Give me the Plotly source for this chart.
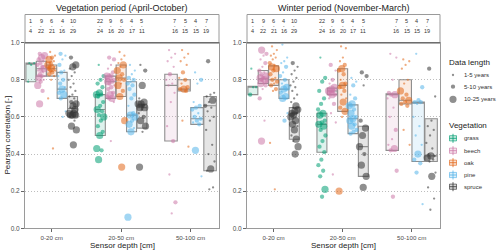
import plotly.graph_objects as go

# ---------------- data ----------------
periods = ["Vegetation period (April-October)", "Winter period (November-March)"]
depths = ["0-20 cm", "20-50 cm", "50-100 cm"]
vegetation = ["grass", "beech", "oak", "pine", "spruce"]
depth_vegetation = [vegetation, vegetation, vegetation[1:]]
n_sites = [[1, 9, 6, 4, 10], [22, 9, 6, 4, 5], [7, 5, 4, 7]]
n_sensors = [[4, 22, 21, 16, 29], [24, 16, 20, 17, 11], [16, 15, 15, 19]]
length_labels = ["1-5 years", "5-10 years", "10-25 years"]

# box statistics  [depth][vegetation]
veg_q1 = [[0.79, 0.82, 0.82, 0.70, 0.60], [0.50, 0.70, 0.71, 0.52, 0.54], [0.47, 0.74, 0.56, 0.31]]
veg_med = [[0.885, 0.86, 0.86, 0.75, 0.645], [0.64, 0.79, 0.81, 0.61, 0.65], [0.77, 0.75, 0.59, 0.66]]
veg_q3 = [[0.89, 0.90, 0.88, 0.84, 0.71], [0.72, 0.82, 0.88, 0.79, 0.67], [0.83, 0.80, 0.65, 0.71]]
win_q1 = [[0.72, 0.78, 0.77, 0.70, 0.48], [0.41, 0.72, 0.63, 0.51, 0.28], [0.42, 0.67, 0.36, 0.36]]
win_med = [[0.76, 0.805, 0.80, 0.75, 0.62], [0.56, 0.74, 0.77, 0.59, 0.44], [0.72, 0.69, 0.68, 0.39]]
win_q3 = [[0.765, 0.85, 0.875, 0.80, 0.65], [0.62, 0.755, 0.86, 0.665, 0.55], [0.725, 0.80, 0.68, 0.59]]

# sensor correlations (vegetation period)
veg_0_20 = {
    "grass": [0.89, 0.89, 0.88, 0.79],
    "beech": [0.94, 0.93, 0.92, 0.91, 0.90, 0.89, 0.88, 0.87, 0.86, 0.86, 0.85, 0.85, 0.84, 0.83, 0.82,
              0.82, 0.81, 0.80, 0.79, 0.77, 0.74, 0.67],
    "oak": [0.95, 0.93, 0.92, 0.91, 0.90, 0.89, 0.88, 0.88, 0.87, 0.87, 0.86, 0.86, 0.86, 0.85, 0.85,
            0.84, 0.83, 0.82, 0.80, 0.70, 0.43],
    "pine": [0.94, 0.93, 0.91, 0.88, 0.85, 0.84, 0.82, 0.80, 0.78, 0.76, 0.75, 0.73, 0.72, 0.70, 0.63, 0.60],
    "spruce": [0.92, 0.88, 0.87, 0.86, 0.84, 0.82, 0.80, 0.78, 0.76, 0.74, 0.72, 0.71, 0.70, 0.68, 0.67,
               0.66, 0.65, 0.64, 0.63, 0.62, 0.62, 0.61, 0.61, 0.61, 0.60, 0.58, 0.55, 0.53, 0.45],
}
veg_0_20_len = {
    "grass": [1, 1, 1, 1],
    "beech": [2, 3, 3, 2, 1, 2, 2, 2, 1, 3, 2, 1, 1, 2, 1, 2, 3, 1, 2, 3, 2, 3],
    "oak": [1, 1, 2, 3, 1, 2, 3, 1, 2, 1, 3, 2, 1, 2, 1, 2, 2, 1, 1, 1, 1],
    "pine": [2, 1, 1, 2, 1, 2, 1, 2, 2, 1, 3, 2, 3, 2, 1, 1],
    "spruce": [2, 3, 3, 1, 1, 1, 1, 1, 1, 1, 1, 1, 1, 2, 3, 3, 1, 3, 1, 3, 3, 3, 3, 3, 1, 1, 3, 3, 3],
}
veg_20_50 = {
    "grass": [0.88, 0.82, 0.80, 0.78, 0.76, 0.73, 0.72, 0.72, 0.71, 0.68, 0.66, 0.64, 0.63, 0.61, 0.60,
              0.58, 0.55, 0.52, 0.50, 0.43, 0.42, 0.37],
    "beech": [0.92, 0.91, 0.88, 0.86, 0.84, 0.83, 0.82, 0.82, 0.81, 0.80, 0.80, 0.79, 0.79, 0.78, 0.77,
              0.76, 0.75, 0.73, 0.72, 0.71, 0.70, 0.70, 0.68, 0.47],
    "oak": [0.95, 0.93, 0.91, 0.89, 0.88, 0.87, 0.85, 0.83, 0.81, 0.80, 0.78, 0.77, 0.74, 0.71, 0.58, 0.33],
    "pine": [0.88, 0.85, 0.83, 0.81, 0.80, 0.79, 0.78, 0.77, 0.75, 0.72, 0.70, 0.66, 0.62, 0.61, 0.60,
             0.58, 0.56, 0.54, 0.52, 0.06],
    "spruce": [0.88, 0.85, 0.77, 0.70, 0.68, 0.67, 0.67, 0.66, 0.65, 0.65, 0.64, 0.62, 0.60, 0.58, 0.55,
               0.52, 0.33],
}
veg_20_50_len = {
    "grass": [1, 2, 2, 2, 2, 3, 3, 2, 2, 2, 2, 3, 2, 2, 3, 2, 2, 2, 3, 3, 2, 3],
    "beech": [2, 2, 1, 1, 2, 1, 3, 2, 3, 2, 1, 3, 2, 2, 1, 2, 2, 2, 3, 2, 3, 2, 1, 1],
    "oak": [1, 1, 1, 1, 3, 1, 3, 2, 3, 2, 1, 3, 2, 3, 3, 3],
    "pine": [1, 1, 1, 2, 2, 1, 2, 2, 2, 2, 2, 1, 2, 3, 3, 2, 3, 1, 3, 3],
    "spruce": [1, 2, 3, 1, 3, 3, 3, 2, 3, 3, 1, 1, 2, 3, 3, 1, 3],
}
veg_50_100 = {
    "beech": [0.96, 0.94, 0.92, 0.90, 0.87, 0.83, 0.80, 0.78, 0.77, 0.73, 0.68, 0.55, 0.47, 0.29, 0.14, 0.08],
    "oak": [0.96, 0.94, 0.92, 0.90, 0.88, 0.84, 0.81, 0.80, 0.78, 0.76, 0.75, 0.75, 0.74, 0.58, 0.44],
    "pine": [0.84, 0.80, 0.78, 0.68, 0.66, 0.65, 0.64, 0.62, 0.60, 0.59, 0.58, 0.57, 0.56, 0.42, 0.28],
    "spruce": [0.90, 0.73, 0.72, 0.71, 0.69, 0.68, 0.66, 0.65, 0.63, 0.60, 0.58, 0.53, 0.45, 0.40, 0.36,
               0.32, 0.31, 0.22, 0.21],
}
veg_50_100_len = {
    "beech": [1, 1, 1, 1, 1, 2, 1, 1, 1, 1, 1, 1, 2, 1, 2, 1],
    "oak": [1, 1, 1, 1, 1, 2, 1, 2, 1, 2, 3, 2, 2, 1, 1],
    "pine": [1, 2, 1, 1, 2, 2, 2, 1, 2, 2, 2, 1, 2, 3, 1],
    "spruce": [2, 1, 1, 1, 3, 1, 2, 1, 1, 1, 1, 1, 1, 1, 1, 3, 1, 1, 1],
}

# sensor correlations (winter period)
win_0_20 = {
    "grass": [0.86, 0.76, 0.76, 0.72],
    "beech": [0.96, 0.94, 0.93, 0.91, 0.89, 0.87, 0.85, 0.84, 0.83, 0.82, 0.81, 0.81, 0.80, 0.80, 0.79,
              0.78, 0.78, 0.77, 0.75, 0.70, 0.58, 0.47],
    "oak": [0.98, 0.96, 0.94, 0.93, 0.92, 0.91, 0.89, 0.88, 0.87, 0.86, 0.85, 0.83, 0.81, 0.80, 0.79,
            0.78, 0.77, 0.75, 0.74, 0.46, 0.21],
    "pine": [0.99, 0.92, 0.90, 0.89, 0.87, 0.84, 0.82, 0.80, 0.78, 0.76, 0.75, 0.73, 0.71, 0.70, 0.62, 0.58],
    "spruce": [0.89, 0.87, 0.85, 0.83, 0.81, 0.79, 0.77, 0.76, 0.74, 0.72, 0.70, 0.68, 0.66, 0.65, 0.64,
               0.63, 0.62, 0.62, 0.61, 0.60, 0.58, 0.56, 0.55, 0.53, 0.50, 0.48, 0.47, 0.44, 0.40],
}
win_0_20_len = {
    "grass": [1, 1, 1, 2],
    "beech": [3, 2, 1, 1, 2, 1, 2, 1, 2, 3, 2, 3, 3, 2, 2, 1, 3, 2, 1, 2, 1, 3],
    "oak": [1, 1, 1, 1, 1, 1, 2, 1, 3, 3, 2, 2, 1, 2, 2, 1, 2, 2, 1, 1, 1],
    "pine": [1, 1, 1, 1, 2, 1, 2, 2, 1, 3, 3, 2, 3, 3, 1, 2],
    "spruce": [2, 1, 1, 1, 1, 1, 1, 1, 1, 1, 1, 1, 3, 1, 3, 3, 3, 1, 3, 3, 3, 3, 1, 3, 1, 3, 1, 3, 3],
}
win_20_50 = {
    "grass": [0.92, 0.81, 0.79, 0.74, 0.70, 0.67, 0.64, 0.62, 0.61, 0.58, 0.57, 0.56, 0.55, 0.53, 0.50,
              0.47, 0.44, 0.41, 0.37, 0.34, 0.31, 0.28, 0.21, 0.17],
    "beech": [0.88, 0.85, 0.80, 0.78, 0.76, 0.75, 0.74, 0.74, 0.73, 0.72, 0.72, 0.70, 0.67, 0.62, 0.57, 0.29],
    "oak": [0.98, 0.97, 0.92, 0.90, 0.88, 0.86, 0.85, 0.83, 0.80, 0.78, 0.77, 0.76, 0.74, 0.72, 0.70,
            0.68, 0.65, 0.63, 0.60, 0.20],
    "pine": [0.81, 0.79, 0.77, 0.72, 0.70, 0.67, 0.66, 0.64, 0.62, 0.60, 0.59, 0.58, 0.56, 0.55, 0.53,
             0.52, 0.51],
    "spruce": [0.84, 0.82, 0.77, 0.58, 0.54, 0.50, 0.44, 0.40, 0.34, 0.28, 0.22],
}
win_20_50_len = {
    "grass": [1, 2, 2, 2, 2, 2, 2, 3, 3, 2, 2, 3, 3, 2, 2, 2, 2, 2, 2, 2, 2, 2, 3, 2],
    "beech": [2, 1, 2, 1, 3, 3, 3, 2, 3, 2, 3, 1, 2, 1, 1, 1],
    "oak": [1, 1, 1, 1, 2, 3, 2, 2, 1, 2, 3, 2, 2, 1, 1, 3, 2, 3, 1, 3],
    "pine": [1, 1, 2, 1, 2, 3, 3, 2, 3, 2, 3, 3, 2, 3, 2, 2, 2],
    "spruce": [2, 2, 1, 2, 3, 3, 3, 2, 3, 3, 3],
}
win_50_100 = {
    "beech": [0.94, 0.92, 0.80, 0.73, 0.72, 0.72, 0.70, 0.65, 0.60, 0.53, 0.48, 0.45, 0.43, 0.42, 0.31, 0.17],
    "oak": [0.91, 0.90, 0.88, 0.86, 0.80, 0.78, 0.74, 0.72, 0.70, 0.69, 0.68, 0.67, 0.66, 0.53, 0.45],
    "pine": [0.94, 0.76, 0.69, 0.68, 0.68, 0.67, 0.60, 0.55, 0.50, 0.45, 0.40, 0.37, 0.35, 0.30, 0.13],
    "spruce": [0.86, 0.71, 0.58, 0.55, 0.53, 0.50, 0.46, 0.43, 0.40, 0.39, 0.39, 0.38, 0.37, 0.36, 0.30,
               0.28, 0.22, 0.16, 0.10],
}
win_50_100_len = {
    "beech": [1, 1, 1, 2, 3, 2, 1, 1, 1, 2, 1, 1, 3, 2, 2, 2],
    "oak": [1, 1, 1, 1, 1, 1, 3, 2, 2, 3, 2, 2, 2, 1, 1],
    "pine": [1, 2, 2, 2, 2, 1, 1, 1, 1, 1, 3, 2, 2, 2, 1],
    "spruce": [2, 1, 1, 1, 1, 1, 1, 1, 1, 1, 3, 3, 1, 1, 1, 3, 1, 1, 1],
}

# ---------------- styling ----------------
FONT = "Liberation Sans, Arial, sans-serif"
W, H = 500, 251
colors = {"grass": "#009E73", "beech": "#CC79A7", "oak": "#E2681A", "pine": "#56B4E9", "spruce": "#333333"}
marker_px = {1: 2.3, 2: 4.3, 3: 7.2}
GROUP_W = 0.75
LABEL_SLOT = 0.15


def rgba(hex_color, a):
    h = hex_color.lstrip("#")
    r, g, b = int(h[0:2], 16), int(h[2:4], 16), int(h[4:6], 16)
    return f"rgba({r},{g},{b},{a})"


def px_x(px):
    return px / W


def px_y(py):
    return (H - py) / H


panels = [
    dict(title=periods[0], q1=veg_q1, med=veg_med, q3=veg_q3,
         pts=[veg_0_20, veg_20_50, veg_50_100], lens=[veg_0_20_len, veg_20_50_len, veg_50_100_len],
         xa="x", ya="y", dom=[25, 219]),
    dict(title=periods[1], q1=win_q1, med=win_med, q3=win_q3,
         pts=[win_0_20, win_20_50, win_50_100], lens=[win_0_20_len, win_20_50_len, win_50_100_len],
         xa="x2", ya="y2", dom=[247, 440]),
]

fig = go.Figure()
annotations = []
shapes = []
Y_TOP, Y_BOT = 42.7, 228.3

for p in panels:
    for d, vegs in enumerate(depth_vegetation):
        n = len(vegs)
        slot = GROUP_W / n
        for k, v in enumerate(vegs):
            pos = d + (k - (n - 1) / 2) * slot
            fig.add_trace(go.Box(
                x=[pos], q1=[p["q1"][d][k]], median=[p["med"][d][k]], q3=[p["q3"][d][k]],
                lowerfence=[p["q1"][d][k]], upperfence=[p["q3"][d][k]],
                width=slot * 0.96, whiskerwidth=0, boxpoints=False,
                fillcolor=rgba(colors[v], 0.13), line=dict(color="#8f8f8f", width=1.1),
                xaxis=p["xa"], yaxis=p["ya"], showlegend=False, hoverinfo="skip",
            ))
    for d, vegs in enumerate(depth_vegetation):
        n = len(vegs)
        slot = GROUP_W / n
        for k, v in enumerate(vegs):
            pos = d + (k - (n - 1) / 2) * slot
            vals = p["pts"][d][v]
            lens = p["lens"][d][v]
            xs = [pos + (((i * 0.6180339887 + 0.3) % 1.0) - 0.5) * slot * 0.75 for i in range(len(vals))]
            fig.add_trace(go.Scatter(
                x=xs, y=vals, mode="markers",
                marker=dict(size=[marker_px[c] for c in lens], color=colors[v], opacity=0.55,
                            line=dict(width=0)),
                xaxis=p["xa"], yaxis=p["ya"], showlegend=False, hoverinfo="skip",
            ))
    # strip with counts
    x0p, x1p = px_x(p["dom"][0]), px_x(p["dom"][1])
    shapes.append(dict(type="rect", xref="paper", yref="paper", x0=x0p, x1=x1p,
                       y0=px_y(Y_TOP), y1=px_y(14.5), line=dict(color="#9a9a9a", width=1)))
    shapes.append(dict(type="line", xref="paper", yref="paper", x0=x0p, x1=x1p,
                       y0=px_y(Y_TOP), y1=px_y(Y_TOP), line=dict(color="#6e6e6e", width=1.6)))
    for d, vegs in enumerate(depth_vegetation):
        n = len(vegs)
        for k in range(n):
            xpos = d + (k - (n - 1) / 2) * LABEL_SLOT
            for txt, yy, fs in [(str(n_sites[d][k]), 20.8, 5.5), ("-", 26.0, 4.5),
                                (str(n_sensors[d][k]), 31.4, 5.5)]:
                annotations.append(dict(text=txt, x=xpos, y=px_y(yy), xref=p["xa"], yref="paper",
                                        showarrow=False, font=dict(family=FONT, size=fs, color="#333"),
                                        xanchor="center", yanchor="middle"))
    cx = (p["dom"][0] + p["dom"][1]) / 2
    annotations.append(dict(text=p["title"], x=px_x(cx), y=px_y(8), xref="paper", yref="paper",
                            showarrow=False, font=dict(family=FONT, size=9, color="#222"),
                            xanchor="center", yanchor="middle"))
    annotations.append(dict(text="Sensor depth [cm]", x=px_x(cx), y=px_y(245.3), xref="paper", yref="paper",
                            showarrow=False, font=dict(family=FONT, size=8, color="#222"),
                            xanchor="center", yanchor="middle"))

annotations.append(dict(text="Pearson correlation [-]", x=px_x(7), y=px_y((Y_TOP + Y_BOT) / 2),
                        xref="paper", yref="paper", textangle=-90, showarrow=False,
                        font=dict(family=FONT, size=8, color="#222"), xanchor="center", yanchor="middle"))

# ---------------- legend (drawn in paper coordinates) ----------------
leg_x_mark, leg_x_text, leg_x_title = 453, 462, 447
size_rows = [75, 86.7, 99.3]
veg_rows = [138.3, 150.7, 162.7, 175, 186.7]
annotations.append(dict(text="Data length", x=px_x(leg_x_title), y=px_y(62.7), xref="paper", yref="paper",
                        showarrow=False, font=dict(family=FONT, size=8, color="#222"),
                        xanchor="left", yanchor="middle"))
for c, lab, yy in zip((1, 2, 3), length_labels, size_rows):
    r = marker_px[c] / 2
    shapes.append(dict(type="circle", xref="paper", yref="paper",
                       x0=px_x(leg_x_mark - r), x1=px_x(leg_x_mark + r), y0=px_y(yy + r), y1=px_y(yy - r),
                       fillcolor="rgba(51,51,51,0.55)", line=dict(width=0)))
    annotations.append(dict(text=lab, x=px_x(leg_x_text), y=px_y(yy), xref="paper", yref="paper",
                            showarrow=False, font=dict(family=FONT, size=6, color="#333"),
                            xanchor="left", yanchor="middle"))
annotations.append(dict(text="Vegetation", x=px_x(leg_x_title), y=px_y(125), xref="paper", yref="paper",
                        showarrow=False, font=dict(family=FONT, size=8, color="#222"),
                        xanchor="left", yanchor="middle"))
for v, yy in zip(vegetation, veg_rows):
    shapes.append(dict(type="line", xref="paper", yref="paper", x0=px_x(leg_x_mark), x1=px_x(leg_x_mark),
                       y0=px_y(yy - 4.5), y1=px_y(yy + 4.5), line=dict(color=colors[v], width=0.8)))
    shapes.append(dict(type="rect", xref="paper", yref="paper", x0=px_x(leg_x_mark - 3.5),
                       x1=px_x(leg_x_mark + 3.5), y0=px_y(yy + 2.6), y1=px_y(yy - 2.6),
                       fillcolor=rgba(colors[v], 0.2), line=dict(color=rgba(colors[v], 0.8), width=0.8)))
    shapes.append(dict(type="line", xref="paper", yref="paper", x0=px_x(leg_x_mark - 3.5),
                       x1=px_x(leg_x_mark + 3.5), y0=px_y(yy), y1=px_y(yy),
                       line=dict(color=colors[v], width=0.8)))
    annotations.append(dict(text=v, x=px_x(leg_x_text), y=px_y(yy), xref="paper", yref="paper",
                            showarrow=False, font=dict(family=FONT, size=6, color="#333"),
                            xanchor="left", yanchor="middle"))

# ---------------- axes ----------------
xaxis_common = dict(range=[-0.385, 2.41], tickvals=[0, 1, 2], ticktext=depths, ticks="outside", ticklen=3,
                    tickcolor="#666", tickfont=dict(family=FONT, size=6.2, color="#4d4d4d"),
                    showline=True, mirror=True, linecolor="#9a9a9a", linewidth=1,
                    showgrid=False, zeroline=False, fixedrange=True)
yaxis_common = dict(range=[0, 1], tickvals=[0, 0.2, 0.4, 0.6, 0.8, 1.0],
                    ticktext=["0.0", "0.2", "0.4", "0.6", "0.8", "1.0"], ticks="outside", ticklen=3,
                    tickcolor="#666", tickfont=dict(family=FONT, size=6.5, color="#4d4d4d"),
                    showline=True, mirror=True, linecolor="#9a9a9a", linewidth=1,
                    showgrid=True, gridcolor="#bdbdbd", griddash="1px,2px", gridwidth=1,
                    zeroline=False, fixedrange=True)
ydom = [px_y(Y_BOT), px_y(Y_TOP)]

fig.update_layout(
    width=W, height=H, margin=dict(l=0, r=0, t=0, b=0, autoexpand=False),
    paper_bgcolor="white", plot_bgcolor="white", showlegend=False,
    boxmode="overlay", hovermode=False,
    xaxis=dict(domain=[px_x(25), px_x(219)], anchor="y", **xaxis_common),
    yaxis=dict(domain=ydom, anchor="x", **yaxis_common),
    xaxis2=dict(domain=[px_x(247), px_x(440)], anchor="y2", **xaxis_common),
    yaxis2=dict(domain=ydom, anchor="x2", **yaxis_common),
    annotations=annotations, shapes=shapes,
    font=dict(family=FONT),
)

fig.write_html("out.html", config={"displayModeBar": False, "staticPlot": True},
               post_script="document.body.style.margin='0';document.body.style.padding='0';")
